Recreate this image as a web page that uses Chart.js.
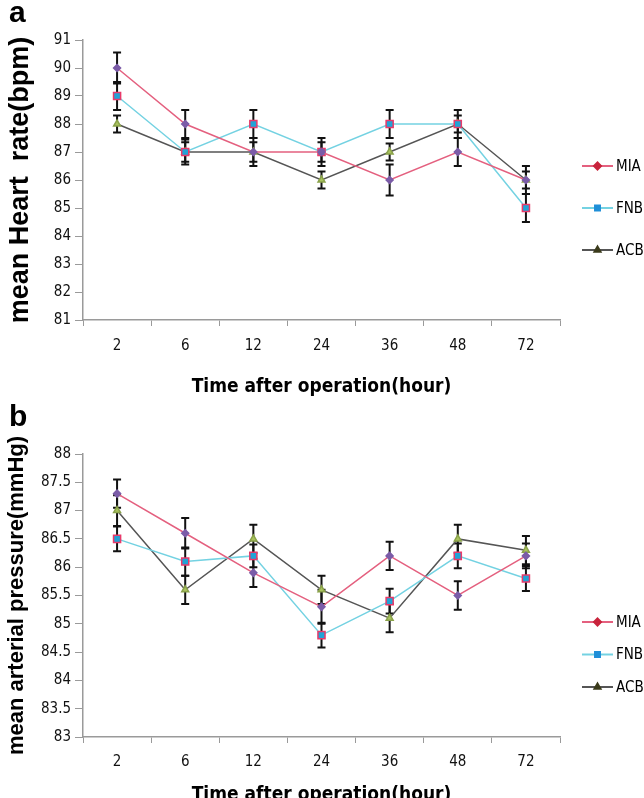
<!DOCTYPE html>
<html>
<head>
<meta charset="utf-8">
<script src="https://cdn.jsdelivr.net/npm/chart.js@4.4.0/dist/chart.umd.min.js"></script>
<style>
html, body { margin: 0; padding: 0; width: 644px; height: 798px; overflow: hidden; background: #fff; }
.panel { position: absolute; left: 0; width: 644px; }
.tag { position: absolute; left: 9px; z-index: 2; font: bold 30px "Liberation Sans", Arial, sans-serif; color: #000; }
</style>
</head>
<body>
<div class="tag" style="top:-5px">a</div>
<div class="tag" style="top:399px">b</div>
<div class="panel" style="top:0"><canvas id="hrChart" width="644" height="400"></canvas></div>
<div class="panel" style="top:400px"><canvas id="mapChart" width="644" height="408"></canvas></div>
<script>
// hours after operation
const hours = ['2', '6', '12', '24', '36', '48', '72'];

// mean heart rate (bpm) and error
const hrMIA = [90, 88, 87, 87, 86, 87, 86];
const hrFNB = [89, 87, 88, 87, 88, 88, 85];
const hrACB = [88, 87, 87, 86, 87, 88, 86];
const hrMIAErr = [0.55, 0.5, 0.5, 0.5, 0.55, 0.5, 0.3];
const hrFNBErr = [0.5, 0.45, 0.5, 0.35, 0.5, 0.5, 0.5];
const hrACBErr = [0.3, 0.35, 0.35, 0.3, 0.3, 0.3, 0.5];

// mean arterial pressure (mmHg) and error
const mapMIA = [87.3, 86.6, 85.9, 85.3, 86.2, 85.5, 86.2];
const mapFNB = [86.5, 86.1, 86.2, 84.8, 85.4, 86.2, 85.8];
const mapACB = [87.0, 85.6, 86.5, 85.6, 85.1, 86.5, 86.3];
const mapMIAErr = [0.25, 0.27, 0.25, 0.3, 0.25, 0.25, 0.22];
const mapFNBErr = [0.22, 0.25, 0.2, 0.22, 0.22, 0.22, 0.22];
const mapACBErr = [0.27, 0.25, 0.25, 0.25, 0.25, 0.25, 0.25];

const narrow = '"DejaVu Sans Condensed", "Liberation Sans", sans-serif';
const axisGrey = '#9a9a9a';

// error bars, drawn under the lines
const errorBars = {
	id: 'errorBars',
	beforeDatasetsDraw(chart) {
		const ctx = chart.ctx;
		const y = chart.scales.y;
		ctx.save();
		ctx.strokeStyle = '#111';
		ctx.lineWidth = 2;
		chart.data.datasets.forEach((ds, i) => {
			chart.getDatasetMeta(i).data.forEach((pt, j) => {
				const top = y.getPixelForValue(ds.data[j] + ds.errors[j]);
				const bot = y.getPixelForValue(ds.data[j] - ds.errors[j]);
				ctx.beginPath();
				ctx.moveTo(pt.x, top); ctx.lineTo(pt.x, bot);
				ctx.moveTo(pt.x - 4, top); ctx.lineTo(pt.x + 4, top);
				ctx.moveTo(pt.x - 4, bot); ctx.lineTo(pt.x + 4, bot);
				ctx.stroke();
			});
		});
		ctx.restore();
	}
};

// legend on the right: line + marker + name
const sideLegend = {
	id: 'sideLegend',
	afterDraw(chart, args, opts) {
		const ctx = chart.ctx;
		const x = chart.chartArea.right + 22;
		ctx.save();
		chart.data.datasets.forEach((ds, i) => {
			const y = chart.chartArea.top + opts.offset + i * opts.gap;
			ctx.strokeStyle = ds.borderColor;
			ctx.lineWidth = 2;
			ctx.beginPath();
			ctx.moveTo(x, y); ctx.lineTo(x + 31, y);
			ctx.stroke();
			ctx.fillStyle = ds.legendMark;
			ctx.strokeStyle = ds.legendMark;
			Chart.helpers.drawPoint(ctx, { pointStyle: ds.pointStyle, radius: 3.5, rotation: 0, borderWidth: 1 }, x + 15.5, y);
			ctx.fillStyle = '#000';
			ctx.font = '15px ' + narrow;
			ctx.textBaseline = 'middle';
			ctx.fillText(ds.label, x + 34, y + 1);
		});
		ctx.restore();
	}
};

function series(mia, miaErr, fnb, fnbErr, acb, acbErr) {
	return [{
		label: 'MIA', data: mia, errors: miaErr,
		borderColor: '#e4607f', borderWidth: 1.5,
		pointStyle: 'rectRot', pointRadius: 3.5,
		pointBackgroundColor: '#7b5ca8', pointBorderColor: '#7b5ca8',
		legendMark: '#c8243c'
	}, {
		label: 'FNB', data: fnb, errors: fnbErr,
		borderColor: '#74d2e2', borderWidth: 1.5,
		pointStyle: 'rect', pointRadius: 5, pointBorderWidth: 1.5,
		pointBackgroundColor: '#22a3d6', pointBorderColor: '#e83a6a',
		legendMark: '#1f8fd8'
	}, {
		label: 'ACB', data: acb, errors: acbErr,
		borderColor: '#555', borderWidth: 1.5,
		pointStyle: 'triangle', pointRadius: 4,
		pointBackgroundColor: '#a9c25e', pointBorderColor: '#8aa24a',
		legendMark: '#3b3b1b'
	}];
}

function makeChart(id, datasets, yMin, yMax, yStep, yTitle, yTitleSize, opt) {
	return new Chart(document.getElementById(id), {
		type: 'line',
		data: { labels: hours, datasets: datasets },
		options: {
			responsive: false,
			animation: false,
			layout: { padding: { left: 0, right: 84, top: opt.top, bottom: 0 } },
			elements: { line: { tension: 0 } },
			plugins: {
				legend: { display: false },
				tooltip: { enabled: false },
				sideLegend: { offset: opt.legendOffset, gap: opt.legendGap }
			},
			scales: {
				x: {
					offset: true,
					grid: { offset: true, drawOnChartArea: false, tickLength: 6, color: axisGrey },
					border: { color: axisGrey, width: 1.5 },
					ticks: { color: '#111', padding: opt.tickPad, font: { family: narrow, size: 15 } },
					title: {
						display: true, text: 'Time after operation(hour)', color: '#000',
						padding: { top: 0, bottom: opt.titlePad },
						font: { family: narrow, size: 19, weight: 'bold' }
					},
					afterFit(scale) { scale.height = opt.xHeight; }
				},
				y: {
					min: yMin, max: yMax,
					grid: { drawOnChartArea: false, tickLength: 8, color: axisGrey },
					border: { color: axisGrey, width: 1.5 },
					ticks: {
						stepSize: yStep, color: '#111', padding: 4,
						font: { family: narrow, size: 15 },
						callback: v => String(v)
					},
					title: {
						display: true, text: yTitle, color: '#000',
						padding: { top: 4, bottom: 0 },
						font: { family: '"Liberation Sans", Arial, sans-serif', size: yTitleSize, weight: 'bold' }
					},
					afterFit(scale) { scale.width = 83; }
				}
			}
		},
		plugins: [errorBars, sideLegend]
	});
}

const hrChart = makeChart('hrChart', series(hrMIA, hrMIAErr, hrFNB, hrFNBErr, hrACB, hrACBErr),
	81, 91, 1, 'mean Heart  rate(bpm)', 27,
	{ top: 40, xHeight: 80, tickPad: 11, titlePad: 2, legendOffset: 126, legendGap: 42 });

const mapChart = makeChart('mapChart', series(mapMIA, mapMIAErr, mapFNB, mapFNBErr, mapACB, mapACBErr),
	83, 88, 0.5, 'mean arterial pressure(mmHg)', 22,
	{ top: 54, xHeight: 71, tickPad: 10, titlePad: 2, legendOffset: 168, legendGap: 32.5 });
</script>
</body>
</html>
